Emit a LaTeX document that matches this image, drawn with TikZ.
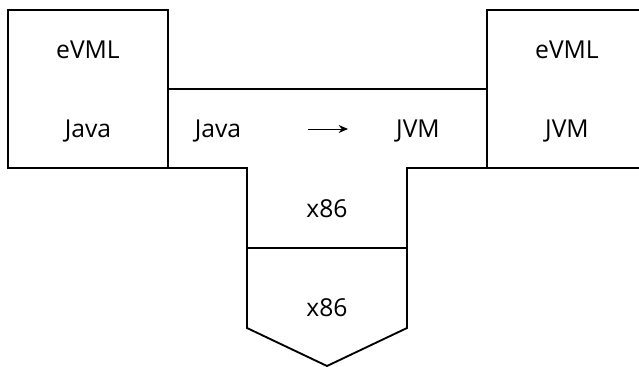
\documentclass[tikz,border=0pt]{standalone}
\usepackage{fontspec}
\setmainfont{Open Sans}
\usetikzlibrary{arrows.meta}
\begin{document}
\begin{tikzpicture}[x=0.75pt,y=-0.75pt,
  edge/.style={line width=1.4pt,line join=miter},
  lbl/.style={font=\fontsize{18.5}{22}\selectfont,inner sep=0pt,anchor=base},
  arrowline/.style={line width=0.7pt,-{Stealth[length=7pt,width=6pt]}}]
\useasboundingbox (0,0) rectangle (639,367);
\begin{scope}
\clip (0,0) rectangle (639,367);
% left T: eVML written in Java
\draw[edge] (8,10) rectangle (168,168);
% right T: eVML running on the JVM
\draw[edge] (487,10) rectangle (647,168);
% translator: Java -> JVM, running on x86
\draw[edge] (168,89) -- (487,89);
\draw[edge] (168,168) -- (247,168) -- (247,248) -- (407,248) -- (407,168) -- (487,168);
% x86 machine
\draw[edge] (247,248) -- (247,328) -- (327,366) -- (407,328) -- (407,248);
\end{scope}
\node[lbl] (lt) at (88,59) {eVML};
\node[lbl] (lb) at (88,138) {Java};
\node[lbl] (mj) at (218,138) {Java};
\node[lbl] (mv) at (418,138) {JVM};
\node[lbl] (rt) at (567,59) {eVML};
\node[lbl] (rb) at (567,138) {JVM};
\node[lbl] (x1) at (327,218) {x86};
\node[lbl] (x2) at (327,316.5) {x86};
\coordinate (as) at (308,129);
\coordinate (ae) at (348,129);
\draw[arrowline] (as) -- (ae);
\end{tikzpicture}
\end{document}
